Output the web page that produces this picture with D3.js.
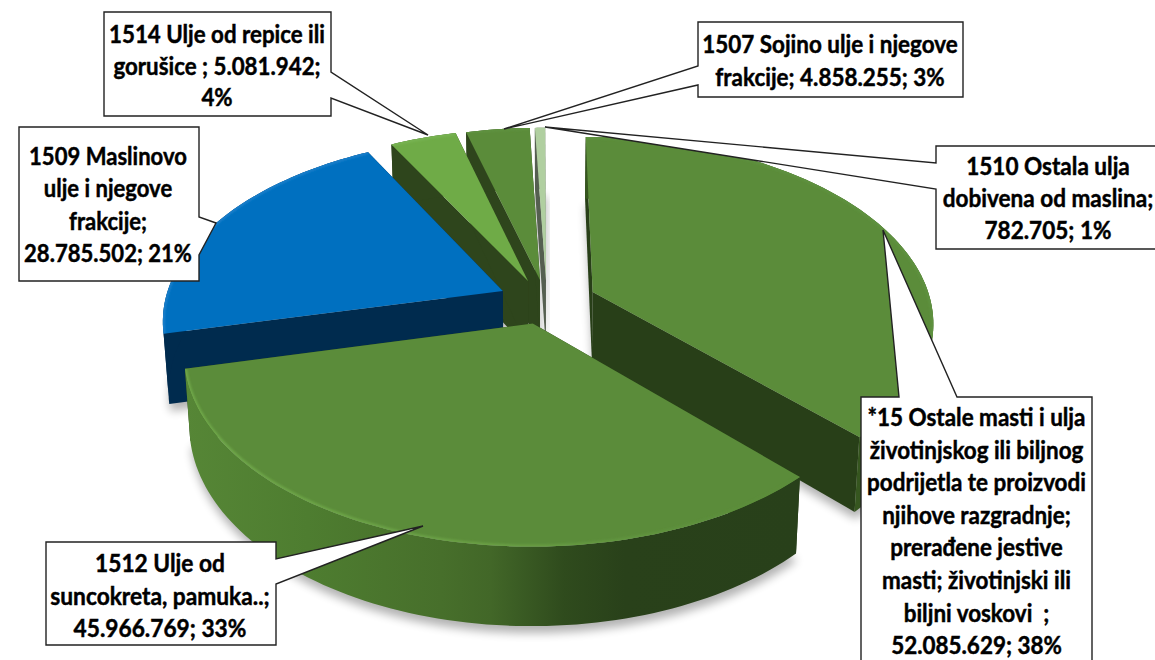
<!DOCTYPE html>
<html>
<head>
<meta charset="utf-8">
<script src="https://cdn.jsdelivr.net/npm/d3@7"></script>
<style>
  html, body { margin: 0; padding: 0; background: #fff; overflow: hidden; }
  text { font-family: Lato, "Open Sans", sans-serif; font-weight: 700; font-size: 24px; fill: #000; stroke: #000; stroke-width: 0.45px; }
</style>
</head>
<body>
<svg id="chart" width="1155" height="660"></svg>
<script>
// values in pie order, clockwise from 12 o'clock
const codes = ['*15', '1512', '1509', '1514', '1507', '1510'];
const values = [52085629, 45966769, 28785502, 5081942, 4858255, 782705];
const labelLines = [
    ['*15 Ostale masti i ulja', 'životinjskog ili biljnog', 'podrijetla te proizvodi', 'njihove razgradnje;', 'prerađene jestive', 'masti; životinjski ili', 'biljni voskovi  ;', '52.085.629; 38%'],
    ['1512 Ulje od', 'suncokreta, pamuka..;', '45.966.769; 33%'],
    ['1509 Maslinovo', 'ulje i njegove', 'frakcije;', '28.785.502; 21%'],
    ['1514 Ulje od repice ili', 'gorušice ; 5.081.942;', '4%'],
    ['1507 Sojino ulje i njegove', 'frakcije; 4.858.255; 3%'],
    ['1510 Ostala ulja', 'dobivena od maslina;', '782.705; 1%']
];

// perspective set up of the pie plane
const vx = 540, vy = 280, rx = 332, ry = 175, persp = 0.15;
const depth = 68, bottomScale = 0.985;

// how far each slice is pulled out, in pie radii
const explodeU = [0.157, -0.021, -0.111, -0.036, 0, 0.018];
const explodeV = [0.068, 0.24, 0.062, 0.006, 0, 0];
// back to front
const drawOrder = [5, 4, 3, 0, 2, 1];

const topColors = ['#5b8c3a', '#5b8c3a', '#0070c0', '#6fab47', '#5b8c3a', '#b0cfa0'];
const cutColors = ['#283f18', '#283f18', '#002b4e', '#2e451c', '#2e451c', '#555f50'];
const rimColors = ['#5f9240', 'url(#rim1512)', '#1a7fca', '#78b352', '#5f9240', '#b0cfa0'];

// callouts: box, then the two points on the box edge and the tip
const boxes = [
    { x: 861, y: 397, w: 231, h: 275, side: 'top', a: [899, 397], b: [957, 397], tip: [883, 230], fit: 0.935, cx: 976.5, base: 426, step: 32.6 },
    { x: 46, y: 542, w: 230, h: 103, side: 'right', a: [276, 559], b: [276, 584], tip: [423, 526], fit: 0.947, cx: 160, base: 572, step: 32.5 },
    { x: 19, y: 127, w: 180, h: 154, side: 'right', a: [199, 217], b: [199, 255], tip: [216, 223], fit: 0.92, cx: 108, base: 165, step: 32.3 },
    { x: 104, y: 12, w: 227, h: 104, side: 'right', a: [331, 72], b: [331, 98], tip: [428, 135], fit: 0.93, cx: 217, base: 43, step: 31.5 },
    { x: 698, y: 22, w: 265, h: 75, side: 'left', a: [698, 66], b: [698, 85], tip: [504, 129], fit: 0.935, cx: 830, base: 53, step: 33 },
    { x: 936, y: 146, w: 230, h: 103, side: 'left', a: [936, 163], b: [936, 189], tip: [545, 127], fit: 0.94, cx: 1048, base: 175, step: 32 }
];

const svg = d3.select('#chart');
const defs = svg.append('defs');

defs.append('filter').attr('id', 'soft')
    .attr('x', '-20%').attr('y', '-20%').attr('width', '140%').attr('height', '140%')
    .append('feGaussianBlur').attr('stdDeviation', 5);
defs.append('filter').attr('id', 'rimBlur')
    .append('feGaussianBlur').attr('stdDeviation', 0.9);

function hGradient(id, x1, x2, stops) {
    const g = defs.append('linearGradient').attr('id', id)
        .attr('gradientUnits', 'userSpaceOnUse')
        .attr('x1', x1).attr('x2', x2).attr('y1', 0).attr('y2', 0);
    stops.forEach(s => g.append('stop').attr('offset', s[0]).attr('stop-color', s[1]));
}
hGradient('wall1512', 185, 796, [
    [0, '#568636'], [0.2, '#4e7d30'], [0.42, '#476f2b'], [0.5, '#426728'],
    [0.62, '#2f4b1d'], [0.72, '#29411a'], [1, '#28401a']
]);
hGradient('rim1512', 185, 796, [[0, '#6fa849'], [0.5, '#6aa045'], [0.85, '#5d903c'], [1, '#5b8c3a']]);

const wallColors = ['#36561f', 'url(#wall1512)', '#002b4e', '#2e451c', '#2e451c', '#555f50'];

// pie plane (u, v) to the screen, z = 0 on the top face and 1 on the bottom
function project(u, v, z) {
    const w = 1 - persp * v;
    const s = z ? bottomScale : 1;
    return [vx + rx * u / w * s, vy + ry * v / w * s + z * depth / w];
}

const pie = d3.pie().sort(null).value(d => d);
const line = d3.line();

const slices = pie(values).map((d, i) => {
    const n = Math.max(4, Math.round((d.endAngle - d.startAngle) * 40));
    const unit = d3.range(n + 1).map(t => d3.pointRadial(d.startAngle + (d.endAngle - d.startAngle) * t / n, 1));
    const ou = explodeU[i], ov = explodeV[i];
    const rimTop = unit.map(p => project(p[0] + ou, p[1] + ov, 0));
    const rimBot = unit.map(p => project(p[0] + ou, p[1] + ov, 1));
    return {
        i: i,
        apexTop: project(ou, ov, 0),
        apexBot: project(ou, ov, 1),
        rimTop: rimTop,
        rimBot: rimBot
    };
});

// soft shadows under everything
svg.append('g').attr('class', 'shadows')
    .selectAll('path')
    .data(drawOrder.map(i => slices[i]))
    .enter()
    .append('path')
    .attr('d', s => line([s.apexBot, ...s.rimBot]) + 'Z')
    .attr('transform', 'translate(1,7)')
    .attr('fill', '#000')
    .attr('opacity', 0.3)
    .attr('filter', 'url(#soft)');

const pieGroup = svg.append('g').attr('class', 'pie');

drawOrder.forEach(idx => {
    const s = slices[idx];
    const g = pieGroup.append('g').attr('class', 'slice-' + codes[idx]);
    const last = s.rimTop.length - 1;

    // the two cut faces
    g.append('path')
        .attr('d', line([s.apexTop, s.rimTop[0], s.rimBot[0], s.apexBot]) + 'Z')
        .attr('fill', cutColors[idx]);
    g.append('path')
        .attr('d', line([s.apexTop, s.rimTop[last], s.rimBot[last], s.apexBot]) + 'Z')
        .attr('fill', cutColors[idx]);

    // outer wall goes over the cut faces that turn away from us
    g.append('path')
        .attr('d', line([...s.rimTop, ...s.rimBot.slice().reverse()]) + 'Z')
        .attr('fill', wallColors[idx]);

    // top face
    const topPath = line([s.apexTop, ...s.rimTop]) + 'Z';
    g.append('path')
        .attr('d', topPath)
        .attr('fill', topColors[idx]);

    // bevel along the rim, kept inside the top face
    defs.append('clipPath').attr('id', 'clip' + idx)
        .append('path').attr('d', topPath);
    g.append('g')
        .attr('clip-path', `url(#clip${idx})`)
        .append('path')
        .attr('d', line(s.rimTop))
        .attr('fill', 'none')
        .attr('stroke', rimColors[idx])
        .attr('stroke-width', 4)
        .attr('filter', 'url(#rimBlur)');
});

// callout boxes with their pointers
function calloutPoints(b) {
    const r = b.x + b.w, o = b.y + b.h;
    if (b.side === 'top') return [[b.x, b.y], b.a, b.tip, b.b, [r, b.y], [r, o], [b.x, o]];
    if (b.side === 'right') return [[b.x, b.y], [r, b.y], b.a, b.tip, b.b, [r, o], [b.x, o]];
    return [[b.x, b.y], [r, b.y], [r, o], [b.x, o], b.b, b.tip, b.a];
}

const labels = svg.append('g').attr('class', 'labels');

boxes.forEach((b, i) => {
    labels.append('path')
        .attr('d', line(calloutPoints(b)) + 'Z')
        .attr('fill', '#fff')
        .attr('stroke', '#222')
        .attr('stroke-width', 1.4);

    labelLines[i].forEach((txt, k) => {
        labels.append('text')
            .attr('transform', `translate(${b.cx},${b.base + k * b.step}) scale(${b.fit},1)`)
            .attr('text-anchor', 'middle')
            .attr('xml:space', 'preserve')
            .text(txt);
    });
});
</script>
</body>
</html>
